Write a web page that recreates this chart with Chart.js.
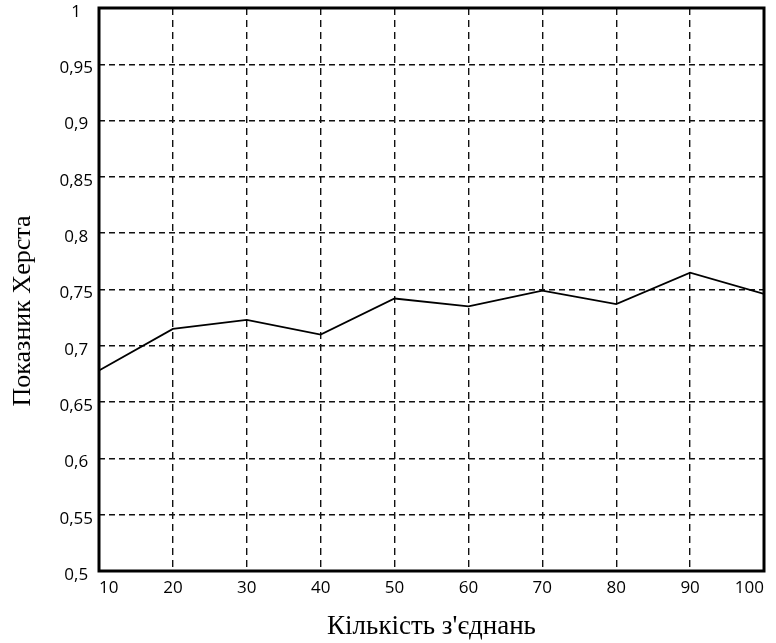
<!DOCTYPE html>
<html>
<head>
<meta charset="utf-8">
<script src="https://cdn.jsdelivr.net/npm/chart.js@4.4.1/dist/chart.umd.min.js"></script>
<style>
  html, body { margin: 0; padding: 0; background: #fff; }
  #wrap { width: 776px; height: 643px; }
</style>
</head>
<body>
<div id="wrap"><canvas id="chart" width="776" height="643"></canvas></div>
<script>
// Data
const connections = [10, 20, 30, 40, 50, 60, 70, 80, 90, 100];
const hurst = [0.678, 0.715, 0.723, 0.710, 0.742, 0.735, 0.749, 0.737, 0.765, 0.746];
const yTicks = [0.5, 0.55, 0.6, 0.65, 0.7, 0.75, 0.8, 0.85, 0.9, 0.95, 1];

const xTitle = 'Кількість з\'єднань';
const yTitle = 'Показник Херста';

const fmt = v => String(+(+v).toFixed(2)).replace('.', ',');

// Frame around the plot and the rotated y title
const framePlugin = {
    id: 'frame',
    afterDatasetsDraw(chart) {
        const { ctx, chartArea: a } = chart;
        ctx.save();
        ctx.strokeStyle = '#000';
        ctx.lineWidth = 3;
        ctx.strokeRect(a.left, a.top, a.right - a.left, a.bottom - a.top);
        ctx.restore();
    },
    afterDraw(chart) {
        const { ctx } = chart;
        ctx.save();
        ctx.translate(23, 311);
        ctx.rotate(-Math.PI / 2);
        ctx.font = '26px "Liberation Serif"';
        ctx.fillStyle = '#000';
        ctx.textAlign = 'center';
        ctx.textBaseline = 'middle';
        ctx.fillText(yTitle, 0, 0);
        ctx.restore();
    }
};

new Chart(document.getElementById('chart'), {
    type: 'line',
    data: {
        datasets: [{
            data: connections.map((c, i) => ({ x: c, y: hurst[i] })),
            borderColor: '#000',
            borderWidth: 1.8,
            pointRadius: 0,
            tension: 0,
            fill: false
        }]
    },
    options: {
        responsive: false,
        animation: false,
        layout: { padding: { top: 8, right: 12, left: 0, bottom: 0 } },
        plugins: { legend: { display: false }, tooltip: { enabled: false } },
        scales: {
            x: {
                type: 'linear',
                min: 10,
                max: 100,
                ticks: {
                    stepSize: 10,
                    padding: 7,
                    align: 'inner',
                    color: '#000',
                    font: { family: 'Open Sans', size: 17 },
                    maxRotation: 0
                },
                grid: { color: '#111', lineWidth: 1.4, drawTicks: false },
                border: { display: false, dash: [7, 5] },
                title: {
                    display: true,
                    text: xTitle,
                    color: '#000',
                    font: { family: 'Liberation Serif', size: 27 },
                    padding: { top: 0, bottom: 0 }
                },
                afterFit(s) { s.height = 72; s.paddingLeft = 0; s.paddingRight = 0; }
            },
            y: {
                min: 0.5,
                max: 1,
                afterBuildTicks(s) { s.ticks = yTicks.map(v => ({ value: v })); },
                ticks: {
                    callback: v => fmt(v),
                    padding: 6,
                    labelOffset: 4,
                    crossAlign: 'center',
                    color: '#000',
                    font: { family: 'Open Sans', size: 17 }
                },
                grid: { color: '#111', lineWidth: 1.4, drawTicks: false },
                border: { display: false, dash: [6, 4] },
                afterFit(s) { s.width = 99; s.paddingTop = 0; s.paddingBottom = 0; }
            }
        }
    },
    plugins: [framePlugin]
});
</script>
</body>
</html>
